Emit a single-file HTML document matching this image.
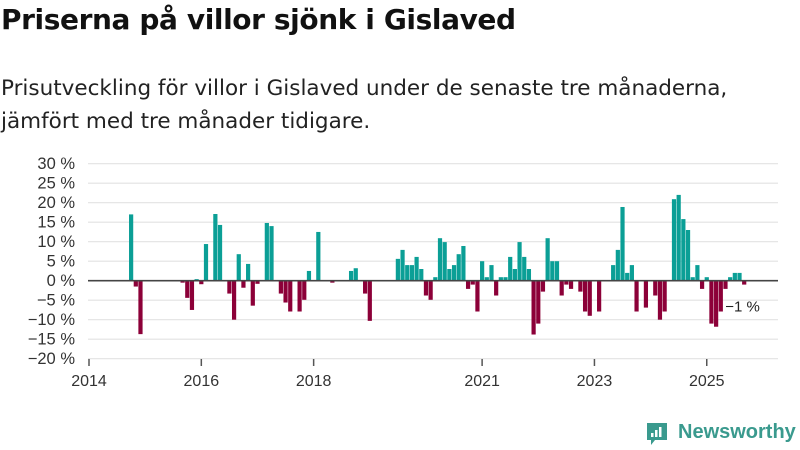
<!DOCTYPE html>
<html><head><meta charset="utf-8"><style>
body{margin:0;background:#fff;font-family:"Liberation Sans",sans-serif;}
#wrap{position:relative;width:800px;height:450px;overflow:hidden;}
h1{position:absolute;left:1px;top:3px;margin:0;font-family:"DejaVu Sans",sans-serif;font-size:28px;font-weight:bold;color:#111;letter-spacing:-0.4px;white-space:nowrap}
.sub{position:absolute;left:1px;top:72px;margin:0;font-family:"DejaVu Sans",sans-serif;font-size:21.5px;line-height:33px;color:#222;white-space:nowrap;letter-spacing:0}
svg text{font-family:"Liberation Sans",sans-serif}
</style></head><body>
<div id="wrap">
<h1>Priserna på villor sjönk i Gislaved</h1>
<p class="sub">Prisutveckling för villor i Gislaved under de senaste tre månaderna,<br>jämfört med tre månader tidigare.</p>
<svg id="chart" width="800" height="450" style="position:absolute;left:0;top:0"></svg>
<div style="position:absolute;left:645px;top:420px;width:150px;height:26px;">
<svg width="24" height="26" style="position:absolute;left:0;top:1px"><path d="M2 2h20v17h-12l-4 5v-5h-4z" fill="#3a9a8e"/><rect x="6" y="12" width="2.5" height="4" fill="#fff"/><rect x="10" y="9" width="2.5" height="7" fill="#fff"/><rect x="14" y="6" width="2.5" height="10" fill="#fff"/></svg>
<span style="position:absolute;left:33px;top:1px;font-size:20px;color:#3a9a8e;font-weight:bold">Newsworthy</span>
</div>
</div>
<script>
const startYear=2014;
const values=[0,0,0,0,0,0,0,0,0,17,-1.5,-13.7,
0,0,0,0,0,0,0,0,-0.5,-4.4,-7.5,0.4,
-0.9,9.4,0,17.1,14.3,0,-3.3,-10,6.8,-1.8,4.3,-6.4,
-0.8,0,14.8,14,0,-3.3,-5.6,-7.9,0,-7.9,-4.9,2.5,
0,12.5,0,0,-0.5,0,0,0,2.5,3.2,0,-3.3,
-10.3,0,0,0,0,0,5.6,7.9,4,4,6.1,3,
-3.8,-4.9,0.9,10.9,9.9,3,4,6.8,8.9,-2.1,-1,-7.9,
5,0.9,4,-3.8,0.9,0.9,6.1,3,9.9,6.1,3,-13.8,
-11,-2.8,10.9,5,5,-3.8,-1,-2.1,0,-2.8,-7.9,-9,
0,-7.9,0,0,4,7.9,18.9,2,4,-7.9,0,-6.9,
0,-3.8,-10,-7.9,0,20.9,22,15.8,13,0.9,4,-2.1,
0.9,-11,-11.8,-7.9,-2.1,0.9,2,2,-1];
const yTicks=[-20,-15,-10,-5,0,5,10,15,20,25,30];
const xTickYears=[2014,2016,2018,2021,2023,2025];
const lastLabel="−1 %";
const NS="http://www.w3.org/2000/svg";
const svg=document.getElementById('chart');
const X0=89,MW=4.68,Y0=280.7,PX=3.9;
function x(i){return X0+MW*i;}
function y(v){return Y0-v*PX;}
function mk(t,a){const e=document.createElementNS(NS,t);for(const k in a)e.setAttribute(k,a[k]);svg.appendChild(e);return e;}
yTicks.forEach(v=>{
 const l=mk('line',{x1:88,x2:778,y1:y(v),y2:y(v),stroke:'#e2e2e2','stroke-width':1.2});
 
 
 const t=mk('text',{x:75,y:y(v)+5.5,'text-anchor':'end','font-size':16.5,fill:'#333'});
 t.textContent=(v<0?'−'+(-v):v)+' %';
 
 
});
values.forEach((v,i)=>{
 if(v===0)return;
 const r=mk('rect',{x:x(i)-2.1,width:4.2,y:Math.min(y(v),Y0),height:Math.abs(y(v)-Y0),fill:v>0?'#0b9f96':'#8c0038'});
 
 
});
const z=mk('line',{x1:88,x2:778,y1:Y0,y2:Y0,stroke:'#444','stroke-width':1.6});


xTickYears.forEach(yr=>{
 const xi=x((yr-startYear)*12);
 const tk=mk('line',{x1:xi,x2:xi,y1:359,y2:366,stroke:'#555','stroke-width':1.5});
 
 
 const t=mk('text',{x:xi,y:386,'text-anchor':'middle','font-size':16,fill:'#333'});
 t.textContent=yr;
 
 
});
const li=values.length-1;
const lt=mk('text',{x:x(li)-19,y:y(values[li])+27,'font-size':15,fill:'#222'});
lt.textContent=lastLabel;


</script>
</body></html>
